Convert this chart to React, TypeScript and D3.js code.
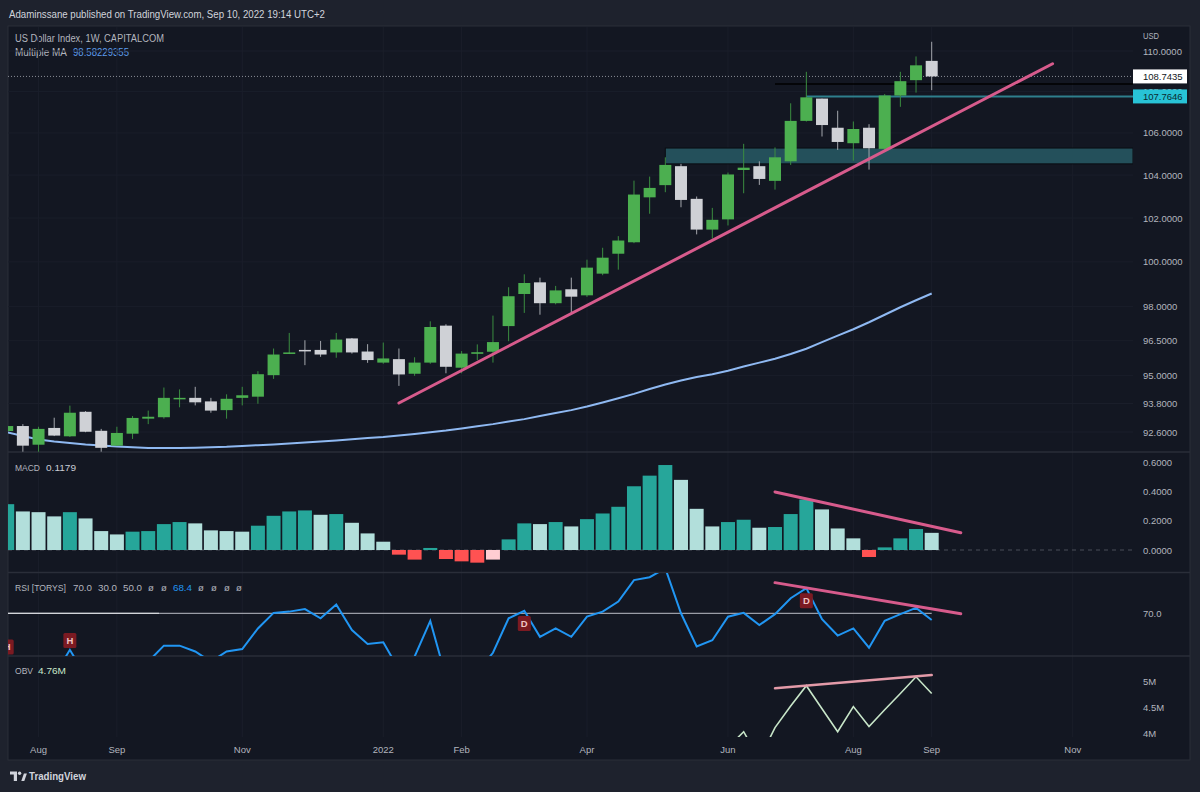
import React from 'react';
import * as d3 from 'd3';

// ── Weekly bars (Monday of each week) ─────────────────────────────────────
const weeks = d3.timeMonday.range(new Date(2021, 6, 19), new Date(2022, 8, 6));

const opens = [92.64, 92.85, 92.07, 92.77, 92.42, 93.45, 92.65, 92.03, 92.53, 93.16, 93.22, 93.99, 94.04, 93.89, 93.52, 94.04, 94.09, 95.01, 95.94, 96.1, 96.1, 95.99, 96.6, 96.03, 95.55, 95.7, 95.07, 95.55, 97.16, 95.33, 95.93, 96.02, 97.14, 98.56, 99.08, 98.15, 98.77, 98.5, 99.47, 100.37, 100.89, 102.96, 103.53, 104.42, 102.89, 101.47, 101.94, 104.24, 104.42, 103.73, 104.65, 106.58, 107.66, 106.25, 105.51, 106.25, 105.24, 107.81, 108.56, 109.51];
const highs = [92.93, 92.93, 92.82, 93.2, 93.71, 93.48, 92.73, 92.82, 93.27, 93.5, 94.48, 94.4, 94.51, 94.04, 94.19, 94.51, 95.18, 96.16, 96.84, 96.52, 96.49, 96.84, 96.62, 96.35, 96.42, 96.16, 95.78, 97.35, 97.22, 96.05, 96.34, 97.6, 98.86, 99.44, 99.29, 98.92, 99.29, 100.1, 100.64, 101.17, 103.74, 103.93, 104.84, 104.53, 103.0, 102.47, 104.12, 105.48, 104.65, 105.31, 107.43, 108.97, 107.66, 107.07, 106.55, 106.42, 107.88, 108.97, 109.73, 110.46];
const lows = [92.6, 91.78, 91.78, 92.43, 92.39, 92.59, 91.78, 92.02, 92.31, 92.93, 93.16, 93.64, 93.72, 93.41, 93.16, 93.72, 93.79, 94.85, 95.92, 95.44, 95.8, 95.76, 95.94, 95.54, 95.5, 94.55, 94.98, 95.5, 95.09, 95.09, 95.66, 95.55, 96.48, 97.72, 97.64, 98.1, 97.64, 98.43, 99.4, 99.65, 100.85, 102.2, 103.2, 102.5, 101.25, 101.06, 101.66, 103.15, 103.54, 103.32, 104.48, 106.55, 105.83, 105.19, 104.68, 104.26, 105.2, 107.26, 107.95, 108.07];
const closes = [92.85, 92.03, 92.73, 92.45, 93.41, 92.61, 91.94, 92.56, 93.19, 93.24, 94.04, 94.04, 93.85, 93.5, 94.0, 94.15, 95.05, 95.9, 95.99, 96.06, 95.9, 96.55, 95.99, 95.66, 95.73, 95.04, 95.55, 97.1, 95.37, 95.94, 96.0, 96.44, 98.46, 99.05, 98.15, 98.72, 98.44, 99.74, 100.19, 100.97, 103.09, 103.4, 104.48, 102.84, 101.47, 101.92, 104.03, 104.35, 103.82, 104.84, 106.58, 107.72, 106.38, 105.57, 106.19, 105.27, 107.81, 108.51, 109.29, 108.7435];
const movingAvg = [92.59, 92.43, 92.29, 92.2, 92.14, 92.08, 92.04, 92.0, 91.96, 91.93, 91.93, 91.93, 91.94, 91.96, 91.98, 92.02, 92.05, 92.08, 92.12, 92.16, 92.2, 92.25, 92.3, 92.35, 92.39, 92.45, 92.52, 92.59, 92.66, 92.75, 92.84, 92.93, 93.04, 93.14, 93.27, 93.4, 93.52, 93.67, 93.84, 94.02, 94.21, 94.42, 94.61, 94.78, 94.93, 95.05, 95.2, 95.38, 95.55, 95.72, 95.92, 96.15, 96.44, 96.72, 97.0, 97.31, 97.64, 97.97, 98.28, 98.5823];

const macdHist = [0.315, 0.265, 0.26, 0.231, 0.26, 0.217, 0.13, 0.107, 0.126, 0.13, 0.178, 0.192, 0.183, 0.135, 0.13, 0.126, 0.167, 0.235, 0.265, 0.272, 0.242, 0.247, 0.187, 0.114, 0.057, -0.032, -0.066, 0.014, -0.062, -0.078, -0.087, -0.066, 0.073, 0.183, 0.178, 0.192, 0.162, 0.212, 0.251, 0.297, 0.438, 0.511, 0.584, 0.482, 0.283, 0.162, 0.192, 0.208, 0.153, 0.158, 0.247, 0.347, 0.279, 0.148, 0.08, -0.048, 0.018, 0.08, 0.144, 0.1179];

const rsi = [57.5, 57.0, 56.8, 55.1, 61.3, 55.1, 56.0, 57.0, 57.5, 58.5, 62.3, 62.3, 60.9, 58.5, 60.9, 61.5, 66.4, 70.1, 70.4, 71.0, 68.8, 72.1, 66.0, 62.7, 63.1, 56.6, 59.7, 68.2, 54.8, 55.5, 56.0, 60.6, 68.8, 70.6, 64.4, 66.4, 64.4, 69.2, 70.4, 72.8, 77.9, 78.6, 80.7, 70.0, 62.1, 63.6, 69.2, 70.1, 67.2, 69.8, 73.6, 76.0, 68.6, 64.7, 66.4, 61.8, 68.2, 69.8, 71.3, 68.4];
// [bar index, rsi level, label]
const rsiMarks: [number, number, string][] = [[0, 62.0, 'H'], [4, 63.5, 'H'], [33, 67.6, 'D'], [51, 73.0, 'D']];

// OBV in millions, only visible from mid 2022
const obv = [...Array(46).fill(null), 3.73, 4.03, 3.5, 4.11, 4.52, 4.91, 4.47, 4.03, 4.51, 4.13, 4.45, 4.76, 5.08, 4.76];

// ── Drawings ──────────────────────────────────────────────────────────────
const priceTrend: [string, number][] = [['2022-01-10', 93.82], ['2022-10-29', 109.37]];
const macdTrend: [string, number][] = [['2022-06-27', 0.399], ['2022-09-18', 0.119]];
const rsiTrend: [string, number][] = [['2022-06-27', 77.3], ['2022-09-18', 69.9]];
const obvTrend: [string, number][] = [['2022-06-27', 4.86], ['2022-09-05', 5.115]];
const zoneStart = '2022-05-09';
const zonePrices = [104.53, 105.28];
const tealLine: [string, number] = ['2022-07-11', 107.7646];
const blackLine: [string, number] = ['2022-06-27', 108.37];
const lastPrice = 108.7435;

// ── Axes ──────────────────────────────────────────────────────────────────
const priceTicks = [92.6, 93.8, 95, 96.5, 98, 100, 102, 104, 106, 108, 110];
const macdTicks = [0, 0.2, 0.4, 0.6];
const obvTicks = [4, 4.5, 5];
const obvTickLabels = ['4M', '4.5M', '5M'];
const timeTicks = ['2021-08-02', '2021-09-06', '2021-11-01', '2022-01-03', '2022-02-07', '2022-04-04', '2022-06-06', '2022-08-01', '2022-09-05', '2022-11-07'];
const timeLabels = ['Aug', 'Sep', 'Nov', '2022', 'Feb', 'Apr', 'Jun', 'Aug', 'Sep', 'Nov'];

const FONT = '"Liberation Sans", Arial, sans-serif';
const BG = '#1e222d';
const CHART_BG = '#131722';
const AXIS_TXT = '#b2b5be';
const UP = '#4caf50';
const DOWN = '#cfd1d6';
const PINK = '#d75b8c';

const L = 8;
const R = 1133;
const FR = 1190;

const parse = d3.timeParse('%Y-%m-%d');

function Txt({ x, y, children, fill = AXIS_TXT, size = 9.5, w, anchor = 'start', weight = 400 }: any) {
  return (
    <text x={x} y={y} fill={fill} fontSize={size} fontFamily={FONT} textAnchor={anchor} fontWeight={weight}
      dominantBaseline="central" textLength={w} lengthAdjust={w ? 'spacingAndGlyphs' : undefined}>
      {children}
    </text>
  );
}

export default function App() {
  const x = d3.scaleTime().domain([weeks[0], weeks[weeks.length - 1]]).range([7.2, 931.7]);
  const xi = (i: number) => x(weeks[i]);
  const yP = d3.scaleLog().domain([92.6, 110]).range([432, 51]);
  const yM = d3.scaleLinear().domain([0, 0.6]).range([550, 462.7]);
  const yR = d3.scaleLinear().domain([70, 80]).range([613.3, 571.3]);
  const yO = d3.scaleLinear().domain([4, 5]).range([733.3, 681]);

  const maLine = d3.line<number>().x((_, i) => xi(i)).y((d) => yP(d));
  const rsiLine = d3.line<number>().x((_, i) => xi(i)).y((d) => yR(d));
  const obvLine = d3.line<number | null>().defined((d) => d != null).x((_, i) => xi(i)).y((d) => yO(d as number));
  const seg = (pts: [string, number][], y: (v: number) => number) =>
    d3.line<[string, number]>().x((d) => x(parse(d[0])!)).y((d) => y(d[1]))(pts) as string;

  const bodyW = 12;
  const histW = 14;

  const histColor = (i: number) => {
    const v = macdHist[i];
    const rising = i === 0 || v >= macdHist[i - 1];
    if (v >= 0) return rising ? '#26a69a' : '#b2dfdb';
    return rising ? '#ffcdd2' : '#ff5252';
  };

  return (
    <svg width={1200} height={792} style={{ position: 'absolute', left: 0, top: 0 }}>
      <defs>
        <clipPath id="cp-price"><rect x={L} y={26} width={R - L} height={426} /></clipPath>
        <clipPath id="cp-macd"><rect x={L} y={453} width={R - L} height={119} /></clipPath>
        <clipPath id="cp-rsi"><rect x={L} y={573} width={R - L} height={83} /></clipPath>
        <clipPath id="cp-obv"><rect x={L} y={657} width={R - L} height={80} /></clipPath>
      </defs>
      <rect width={1200} height={792} fill={BG} />
      <rect x={L} y={26} width={FR - L} height={734} fill={CHART_BG} stroke="#2a2e39" />

      {/* header */}
      <Txt x={9} y={14} fill="#d1d4dc" size={10} w={316}>Adaminssane published on TradingView.com, Sep 10, 2022 19:14 UTC+2</Txt>
      <Txt x={15} y={38} fill="#b2b5be" size={10} w={149}>US Dollar Index, 1W, CAPITALCOM</Txt>
      <Txt x={15} y={52.5} fill="#b2b5be" size={10} w={52}>Multiple MA</Txt>
      <Txt x={73} y={52.5} fill="#5d9cec" size={10} w={56}>98.58229355</Txt>

      {/* grid */}
      <g stroke="#1a1e2a" strokeWidth={1}>
        {timeTicks.map((t) => (
          <line key={t} x1={x(parse(t)!)} x2={x(parse(t)!)} y1={27} y2={737} />
        ))}
        {priceTicks.map((p) => (
          <line key={p} x1={L} x2={R} y1={yP(p)} y2={yP(p)} />
        ))}
      </g>

      {/* pane separators */}
      <g stroke="#2a2e39" strokeWidth={1.5}>
        <line x1={L} x2={FR} y1={452} y2={452} />
        <line x1={L} x2={FR} y1={572.5} y2={572.5} />
        <line x1={L} x2={FR} y1={656} y2={656} />
      </g>

      {/* ── price pane ── */}
      <g clipPath="url(#cp-price)">
        <rect x={x(parse(zoneStart)!)} width={R - x(parse(zoneStart)!)} y={yP(zonePrices[1])}
          height={yP(zonePrices[0]) - yP(zonePrices[1])} fill="#24505b" stroke="#0a0d13" strokeWidth={1} />
        <line x1={L} x2={R} y1={yP(lastPrice)} y2={yP(lastPrice)} stroke="#8a8d96" strokeDasharray="1 2" />
        <line x1={x(parse(blackLine[0])!)} x2={R} y1={yP(blackLine[1])} y2={yP(blackLine[1])} stroke="#000000" strokeWidth={1.5} />
        <line x1={x(parse(tealLine[0])!)} x2={R} y1={yP(tealLine[1])} y2={yP(tealLine[1])} stroke="#2e7f8c" strokeWidth={2} />
        <path d={maLine(movingAvg) as string} fill="none" stroke="#8fb9f2" strokeWidth={2} />
        {weeks.map((w, i) => {
          const up = closes[i] >= opens[i];
          const top = yP(Math.max(opens[i], closes[i]));
          const bot = yP(Math.min(opens[i], closes[i]));
          const cx = xi(i);
          return (
            <g key={i}>
              <line x1={cx} x2={cx} y1={yP(highs[i])} y2={yP(lows[i])} stroke={up ? '#3b8d40' : '#a4a7ad'} strokeWidth={1} />
              <rect x={cx - bodyW / 2} width={bodyW} y={top} height={Math.max(1.5, bot - top)} fill={up ? UP : DOWN} />
            </g>
          );
        })}
        <path d={seg(priceTrend, yP)} stroke={PINK} strokeWidth={3} strokeLinecap="round" fill="none" />
      </g>

      {/* price axis */}
      <Txt x={1143} y={35} w={16}>USD</Txt>
      {priceTicks.map((p) => (
        <Txt key={p} x={1143} y={yP(p)}>{p.toFixed(4)}</Txt>
      ))}
      <rect x={1133} y={yP(lastPrice) - 7} width={54} height={14} fill="#ffffff" />
      <Txt x={1143} y={yP(lastPrice)} fill="#131722">{lastPrice.toFixed(4)}</Txt>
      <rect x={1133} y={yP(tealLine[1]) - 7} width={54} height={14} fill="#28c3d6" />
      <Txt x={1143} y={yP(tealLine[1])} fill="#0b2b30">{tealLine[1].toFixed(4)}</Txt>

      {/* ── MACD pane ── */}
      <Txt x={15} y={467} w={25}>MACD</Txt>
      <Txt x={46} y={467} fill="#c9ccd4" w={30}>0.1179</Txt>
      <g clipPath="url(#cp-macd)">
        <line x1={L} x2={R} y1={yM(0)} y2={yM(0)} stroke="#4a4e59" strokeDasharray="4 4" />
        {macdHist.map((v, i) => (
          <rect key={i} x={xi(i) - histW / 2} width={histW} y={Math.min(yM(v), yM(0))}
            height={Math.abs(yM(v) - yM(0))} fill={histColor(i)} />
        ))}
        <path d={seg(macdTrend, yM)} stroke={PINK} strokeWidth={3} strokeLinecap="round" fill="none" />
      </g>
      {macdTicks.map((t) => (
        <Txt key={t} x={1143} y={yM(t)}>{t.toFixed(4)}</Txt>
      ))}

      {/* ── RSI pane ── */}
      <Txt x={15} y={587} w={51}>RSI [TORYS]</Txt>
      <Txt x={73} y={587} w={19}>70.0</Txt>
      <Txt x={98} y={587} w={19}>30.0</Txt>
      <Txt x={123} y={587} w={19}>50.0</Txt>
      <Txt x={151} y={587} anchor="middle">ø</Txt>
      <Txt x={164} y={587} anchor="middle">ø</Txt>
      <Txt x={173} y={587} fill="#2196f3" w={19}>68.4</Txt>
      {[201, 214, 227, 239].map((px) => (
        <Txt key={px} x={px} y={587} anchor="middle">ø</Txt>
      ))}
      <g clipPath="url(#cp-rsi)">
        <line x1={L} x2={xi(59)} y1={yR(70)} y2={yR(70)} stroke="#9a9da6" strokeWidth={1.2} />
        <line x1={L} x2={159} y1={yR(70)} y2={yR(70)} stroke="#d3d5da" strokeWidth={1.2} />
        <path d={rsiLine(rsi) as string} fill="none" stroke="#2196f3" strokeWidth={2} />
        {rsiMarks.map(([i, v, lab]) => (
          <g key={i}>
            <rect x={xi(i) - 6.5} y={yR(v) - 7.5} width={13} height={15} rx={1.5} fill="#7b1a22" />
            <Txt x={xi(i)} y={yR(v)} anchor="middle" fill="#efc4c4" size={9.5} weight={700}>{lab}</Txt>
          </g>
        ))}
        <path d={seg(rsiTrend, yR)} stroke={PINK} strokeWidth={3} strokeLinecap="round" fill="none" />
      </g>
      <Txt x={1143} y={yR(70)}>70.0</Txt>

      {/* ── OBV pane ── */}
      <Txt x={15} y={670} w={18}>OBV</Txt>
      <Txt x={38} y={670} fill="#c8e6c9" w={28}>4.76M</Txt>
      <g clipPath="url(#cp-obv)">
        <path d={obvLine(obv) as string} fill="none" stroke="#c8e6c9" strokeWidth={1.6} />
        <path d={seg(obvTrend, yO)} stroke="#e39aa8" strokeWidth={2.5} strokeLinecap="round" fill="none" />
      </g>
      {obvTicks.map((t, k) => (
        <Txt key={t} x={1143} y={yO(t)}>{obvTickLabels[k]}</Txt>
      ))}

      {/* time axis */}
      {timeTicks.map((t, k) => (
        <Txt key={t} x={x(parse(t)!)} y={749} anchor="middle">{timeLabels[k]}</Txt>
      ))}

      {/* footer logo */}
      <g fill="#d1d4dc">
        <path d="M10 771.5 h7 v9.5 h-3.2 v-6.5 h-3.8 z" />
        <circle cx={19.6} cy={773.3} r={1.7} />
        <path d="M21.3 781 l2.6 -7.5 h3 l-2.6 7.5 z" />
      </g>
      <Txt x={29} y={776} fill="#d1d4dc" size={10.5} weight={600} w={57}>TradingView</Txt>
    </svg>
  );
}
